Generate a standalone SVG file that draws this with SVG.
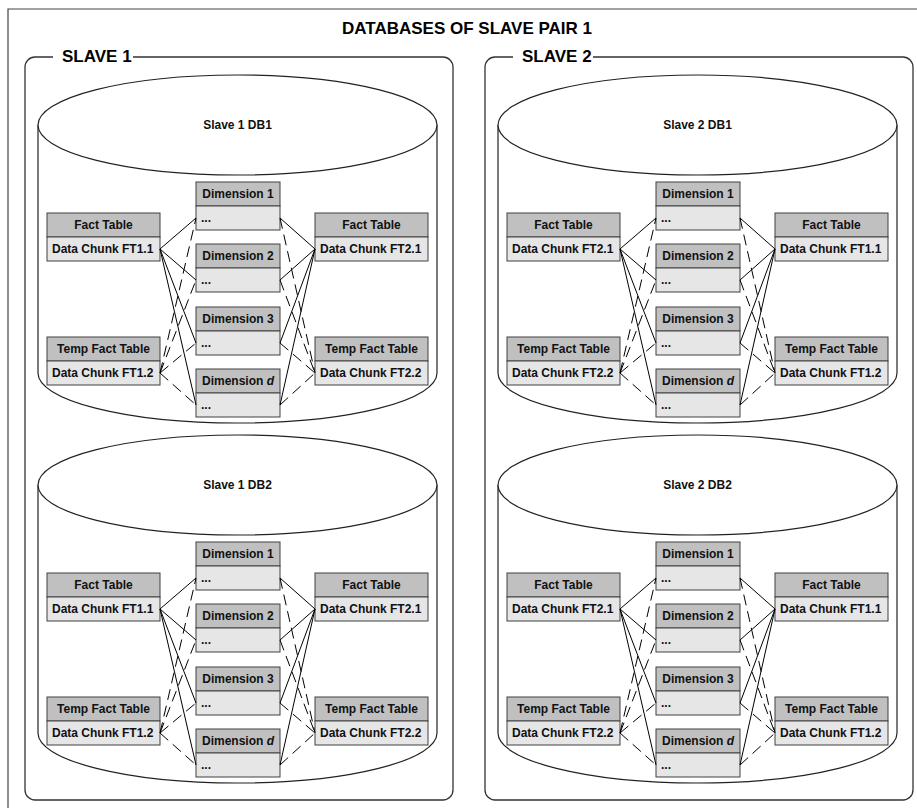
<svg xmlns="http://www.w3.org/2000/svg" width="917" height="808" viewBox="0 0 917 808">
  <style>
    .t { font-family: "Liberation Sans", Arial, sans-serif; font-weight: bold; font-size: 12px; fill: #111; }
    .c { text-anchor: middle; }
    .big { font-size: 17px; fill: #000; }
    .hdr { fill: #c0c0c0; stroke: #404040; stroke-width: 1; }
    .row { fill: #e6e6e6; stroke: #404040; stroke-width: 1; }
    .frame { fill: none; stroke: #333; stroke-width: 1.3; }
    .cyl { fill: #fff; stroke: #222; stroke-width: 1.2; }
    .ln { fill: none; stroke: #000; stroke-width: 1; }
    .dash { stroke-dasharray: 11 6; }
  </style>
  <rect width="917" height="808" fill="#fff"/>

  <!-- outer border and title -->
  <g id="pair">
    <path d="M8 820 L8 9 L925 9" fill="none" stroke="#444" stroke-width="1.2"/>
    <text class="t big c" x="467" y="34">DATABASES OF SLAVE PAIR 1</text>
  </g>

  <!-- slave frames -->
  <g id="slave1">
    <path class="frame" d="M53 57 L35 57 A10 10 0 0 0 25 67 L25 790 A10 10 0 0 0 35 800 L443 800 A10 10 0 0 0 453 790 L453 67 A10 10 0 0 0 443 57 L133 57"/>
    <text class="t big" x="62" y="62">SLAVE 1</text>
  </g>
  <g id="slave2">
    <path class="frame" d="M513 57 L495 57 A10 10 0 0 0 485 67 L485 790 A10 10 0 0 0 495 800 L903 800 A10 10 0 0 0 913 790 L913 67 A10 10 0 0 0 903 57 L593 57"/>
    <text class="t big" x="522" y="62">SLAVE 2</text>
  </g>

  <!-- Slave 1 DB1 -->
  <g transform="translate(0,0)">
    <g id="s1db1">
      <path class="cyl" d="M38 125 L38 373 A199.5 50 0 0 0 437 373 L437 125"/>
      <ellipse class="cyl" cx="237.5" cy="125" rx="199.5" ry="50"/>
      <text class="t c" x="237.5" y="129">Slave 1 DB1</text>
    </g>
    <g id="s1db1-fact-l"><rect class="hdr" x="47" y="213" width="113" height="24"/><rect class="row" x="47" y="237" width="113" height="24"/><text class="t c" x="103.5" y="229">Fact Table</text><text class="t" x="52" y="253">Data Chunk FT1.1</text></g>
    <g id="s1db1-temp-l"><rect class="hdr" x="47" y="337" width="113" height="24"/><rect class="row" x="47" y="361" width="113" height="24"/><text class="t c" x="103.5" y="353">Temp Fact Table</text><text class="t" x="52" y="377">Data Chunk FT1.2</text></g>
    <g id="s1db1-fact-r"><rect class="hdr" x="315" y="213" width="113" height="24"/><rect class="row" x="315" y="237" width="113" height="24"/><text class="t c" x="371.5" y="229">Fact Table</text><text class="t" x="320" y="253">Data Chunk FT2.1</text></g>
    <g id="s1db1-temp-r"><rect class="hdr" x="315" y="337" width="113" height="24"/><rect class="row" x="315" y="361" width="113" height="24"/><text class="t c" x="371.5" y="353">Temp Fact Table</text><text class="t" x="320" y="377">Data Chunk FT2.2</text></g>
    <g id="s1db1-dim1"><rect class="hdr" x="196" y="182" width="84" height="24"/><rect class="row" x="196" y="206" width="84" height="24"/><text class="t c" x="238" y="198">Dimension 1</text><text class="t" x="201" y="222">...</text></g>
    <g id="s1db1-dim2"><rect class="hdr" x="196" y="244" width="84" height="24"/><rect class="row" x="196" y="268" width="84" height="24"/><text class="t c" x="238" y="260">Dimension 2</text><text class="t" x="201" y="284">...</text></g>
    <g id="s1db1-dim3"><rect class="hdr" x="196" y="307" width="84" height="24"/><rect class="row" x="196" y="331" width="84" height="24"/><text class="t c" x="238" y="323">Dimension 3</text><text class="t" x="201" y="347">...</text></g>
    <g id="s1db1-dimd"><rect class="hdr" x="196" y="369" width="84" height="24"/><rect class="row" x="196" y="393" width="84" height="24"/><text class="t c" x="238" y="385">Dimension <tspan font-style="italic">d</tspan></text><text class="t" x="201" y="409">...</text></g>
  </g>

  <!-- Slave 1 DB2 -->
  <g transform="translate(0,360)">
    <g id="s1db2">
      <path class="cyl" d="M38 125 L38 373 A199.5 50 0 0 0 437 373 L437 125"/>
      <ellipse class="cyl" cx="237.5" cy="125" rx="199.5" ry="50"/>
      <text class="t c" x="237.5" y="129">Slave 1 DB2</text>
    </g>
    <g id="s1db2-fact-l"><rect class="hdr" x="47" y="213" width="113" height="24"/><rect class="row" x="47" y="237" width="113" height="24"/><text class="t c" x="103.5" y="229">Fact Table</text><text class="t" x="52" y="253">Data Chunk FT1.1</text></g>
    <g id="s1db2-temp-l"><rect class="hdr" x="47" y="337" width="113" height="24"/><rect class="row" x="47" y="361" width="113" height="24"/><text class="t c" x="103.5" y="353">Temp Fact Table</text><text class="t" x="52" y="377">Data Chunk FT1.2</text></g>
    <g id="s1db2-fact-r"><rect class="hdr" x="315" y="213" width="113" height="24"/><rect class="row" x="315" y="237" width="113" height="24"/><text class="t c" x="371.5" y="229">Fact Table</text><text class="t" x="320" y="253">Data Chunk FT2.1</text></g>
    <g id="s1db2-temp-r"><rect class="hdr" x="315" y="337" width="113" height="24"/><rect class="row" x="315" y="361" width="113" height="24"/><text class="t c" x="371.5" y="353">Temp Fact Table</text><text class="t" x="320" y="377">Data Chunk FT2.2</text></g>
    <g id="s1db2-dim1"><rect class="hdr" x="196" y="182" width="84" height="24"/><rect class="row" x="196" y="206" width="84" height="24"/><text class="t c" x="238" y="198">Dimension 1</text><text class="t" x="201" y="222">...</text></g>
    <g id="s1db2-dim2"><rect class="hdr" x="196" y="244" width="84" height="24"/><rect class="row" x="196" y="268" width="84" height="24"/><text class="t c" x="238" y="260">Dimension 2</text><text class="t" x="201" y="284">...</text></g>
    <g id="s1db2-dim3"><rect class="hdr" x="196" y="307" width="84" height="24"/><rect class="row" x="196" y="331" width="84" height="24"/><text class="t c" x="238" y="323">Dimension 3</text><text class="t" x="201" y="347">...</text></g>
    <g id="s1db2-dimd"><rect class="hdr" x="196" y="369" width="84" height="24"/><rect class="row" x="196" y="393" width="84" height="24"/><text class="t c" x="238" y="385">Dimension <tspan font-style="italic">d</tspan></text><text class="t" x="201" y="409">...</text></g>
  </g>

  <!-- Slave 2 DB1 -->
  <g transform="translate(460,0)">
    <g id="s2db1">
      <path class="cyl" d="M38 125 L38 373 A199.5 50 0 0 0 437 373 L437 125"/>
      <ellipse class="cyl" cx="237.5" cy="125" rx="199.5" ry="50"/>
      <text class="t c" x="237.5" y="129">Slave 2 DB1</text>
    </g>
    <g id="s2db1-fact-l"><rect class="hdr" x="47" y="213" width="113" height="24"/><rect class="row" x="47" y="237" width="113" height="24"/><text class="t c" x="103.5" y="229">Fact Table</text><text class="t" x="52" y="253">Data Chunk FT2.1</text></g>
    <g id="s2db1-temp-l"><rect class="hdr" x="47" y="337" width="113" height="24"/><rect class="row" x="47" y="361" width="113" height="24"/><text class="t c" x="103.5" y="353">Temp Fact Table</text><text class="t" x="52" y="377">Data Chunk FT2.2</text></g>
    <g id="s2db1-fact-r"><rect class="hdr" x="315" y="213" width="113" height="24"/><rect class="row" x="315" y="237" width="113" height="24"/><text class="t c" x="371.5" y="229">Fact Table</text><text class="t" x="320" y="253">Data Chunk FT1.1</text></g>
    <g id="s2db1-temp-r"><rect class="hdr" x="315" y="337" width="113" height="24"/><rect class="row" x="315" y="361" width="113" height="24"/><text class="t c" x="371.5" y="353">Temp Fact Table</text><text class="t" x="320" y="377">Data Chunk FT1.2</text></g>
    <g id="s2db1-dim1"><rect class="hdr" x="196" y="182" width="84" height="24"/><rect class="row" x="196" y="206" width="84" height="24"/><text class="t c" x="238" y="198">Dimension 1</text><text class="t" x="201" y="222">...</text></g>
    <g id="s2db1-dim2"><rect class="hdr" x="196" y="244" width="84" height="24"/><rect class="row" x="196" y="268" width="84" height="24"/><text class="t c" x="238" y="260">Dimension 2</text><text class="t" x="201" y="284">...</text></g>
    <g id="s2db1-dim3"><rect class="hdr" x="196" y="307" width="84" height="24"/><rect class="row" x="196" y="331" width="84" height="24"/><text class="t c" x="238" y="323">Dimension 3</text><text class="t" x="201" y="347">...</text></g>
    <g id="s2db1-dimd"><rect class="hdr" x="196" y="369" width="84" height="24"/><rect class="row" x="196" y="393" width="84" height="24"/><text class="t c" x="238" y="385">Dimension <tspan font-style="italic">d</tspan></text><text class="t" x="201" y="409">...</text></g>
  </g>

  <!-- Slave 2 DB2 -->
  <g transform="translate(460,360)">
    <g id="s2db2">
      <path class="cyl" d="M38 125 L38 373 A199.5 50 0 0 0 437 373 L437 125"/>
      <ellipse class="cyl" cx="237.5" cy="125" rx="199.5" ry="50"/>
      <text class="t c" x="237.5" y="129">Slave 2 DB2</text>
    </g>
    <g id="s2db2-fact-l"><rect class="hdr" x="47" y="213" width="113" height="24"/><rect class="row" x="47" y="237" width="113" height="24"/><text class="t c" x="103.5" y="229">Fact Table</text><text class="t" x="52" y="253">Data Chunk FT2.1</text></g>
    <g id="s2db2-temp-l"><rect class="hdr" x="47" y="337" width="113" height="24"/><rect class="row" x="47" y="361" width="113" height="24"/><text class="t c" x="103.5" y="353">Temp Fact Table</text><text class="t" x="52" y="377">Data Chunk FT2.2</text></g>
    <g id="s2db2-fact-r"><rect class="hdr" x="315" y="213" width="113" height="24"/><rect class="row" x="315" y="237" width="113" height="24"/><text class="t c" x="371.5" y="229">Fact Table</text><text class="t" x="320" y="253">Data Chunk FT1.1</text></g>
    <g id="s2db2-temp-r"><rect class="hdr" x="315" y="337" width="113" height="24"/><rect class="row" x="315" y="361" width="113" height="24"/><text class="t c" x="371.5" y="353">Temp Fact Table</text><text class="t" x="320" y="377">Data Chunk FT1.2</text></g>
    <g id="s2db2-dim1"><rect class="hdr" x="196" y="182" width="84" height="24"/><rect class="row" x="196" y="206" width="84" height="24"/><text class="t c" x="238" y="198">Dimension 1</text><text class="t" x="201" y="222">...</text></g>
    <g id="s2db2-dim2"><rect class="hdr" x="196" y="244" width="84" height="24"/><rect class="row" x="196" y="268" width="84" height="24"/><text class="t c" x="238" y="260">Dimension 2</text><text class="t" x="201" y="284">...</text></g>
    <g id="s2db2-dim3"><rect class="hdr" x="196" y="307" width="84" height="24"/><rect class="row" x="196" y="331" width="84" height="24"/><text class="t c" x="238" y="323">Dimension 3</text><text class="t" x="201" y="347">...</text></g>
    <g id="s2db2-dimd"><rect class="hdr" x="196" y="369" width="84" height="24"/><rect class="row" x="196" y="393" width="84" height="24"/><text class="t c" x="238" y="385">Dimension <tspan font-style="italic">d</tspan></text><text class="t" x="201" y="409">...</text></g>
  </g>

  <!-- links: fact tables (solid) and temp fact tables (dashed) to every dimension -->
  <defs>
    <g id="links">
      <path class="ln" d="M160 249 L196 218 M160 249 L196 280 M160 249 L196 343 M160 249 L196 405 M280 218 L315 249 M280 280 L315 249 M280 343 L315 249 M280 405 L315 249"/>
      <path class="ln dash" d="M160 373 L196 218 M160 373 L196 280 M160 373 L196 343 M160 373 L196 405 M280 218 L315 373 M280 280 L315 373 M280 343 L315 373 M280 405 L315 373"/>
    </g>
  </defs>
  <g id="connectors">
    <use href="#links"/>
    <use href="#links" transform="translate(0,360)"/>
    <use href="#links" transform="translate(460,0)"/>
    <use href="#links" transform="translate(460,360)"/>
  </g>
</svg>
